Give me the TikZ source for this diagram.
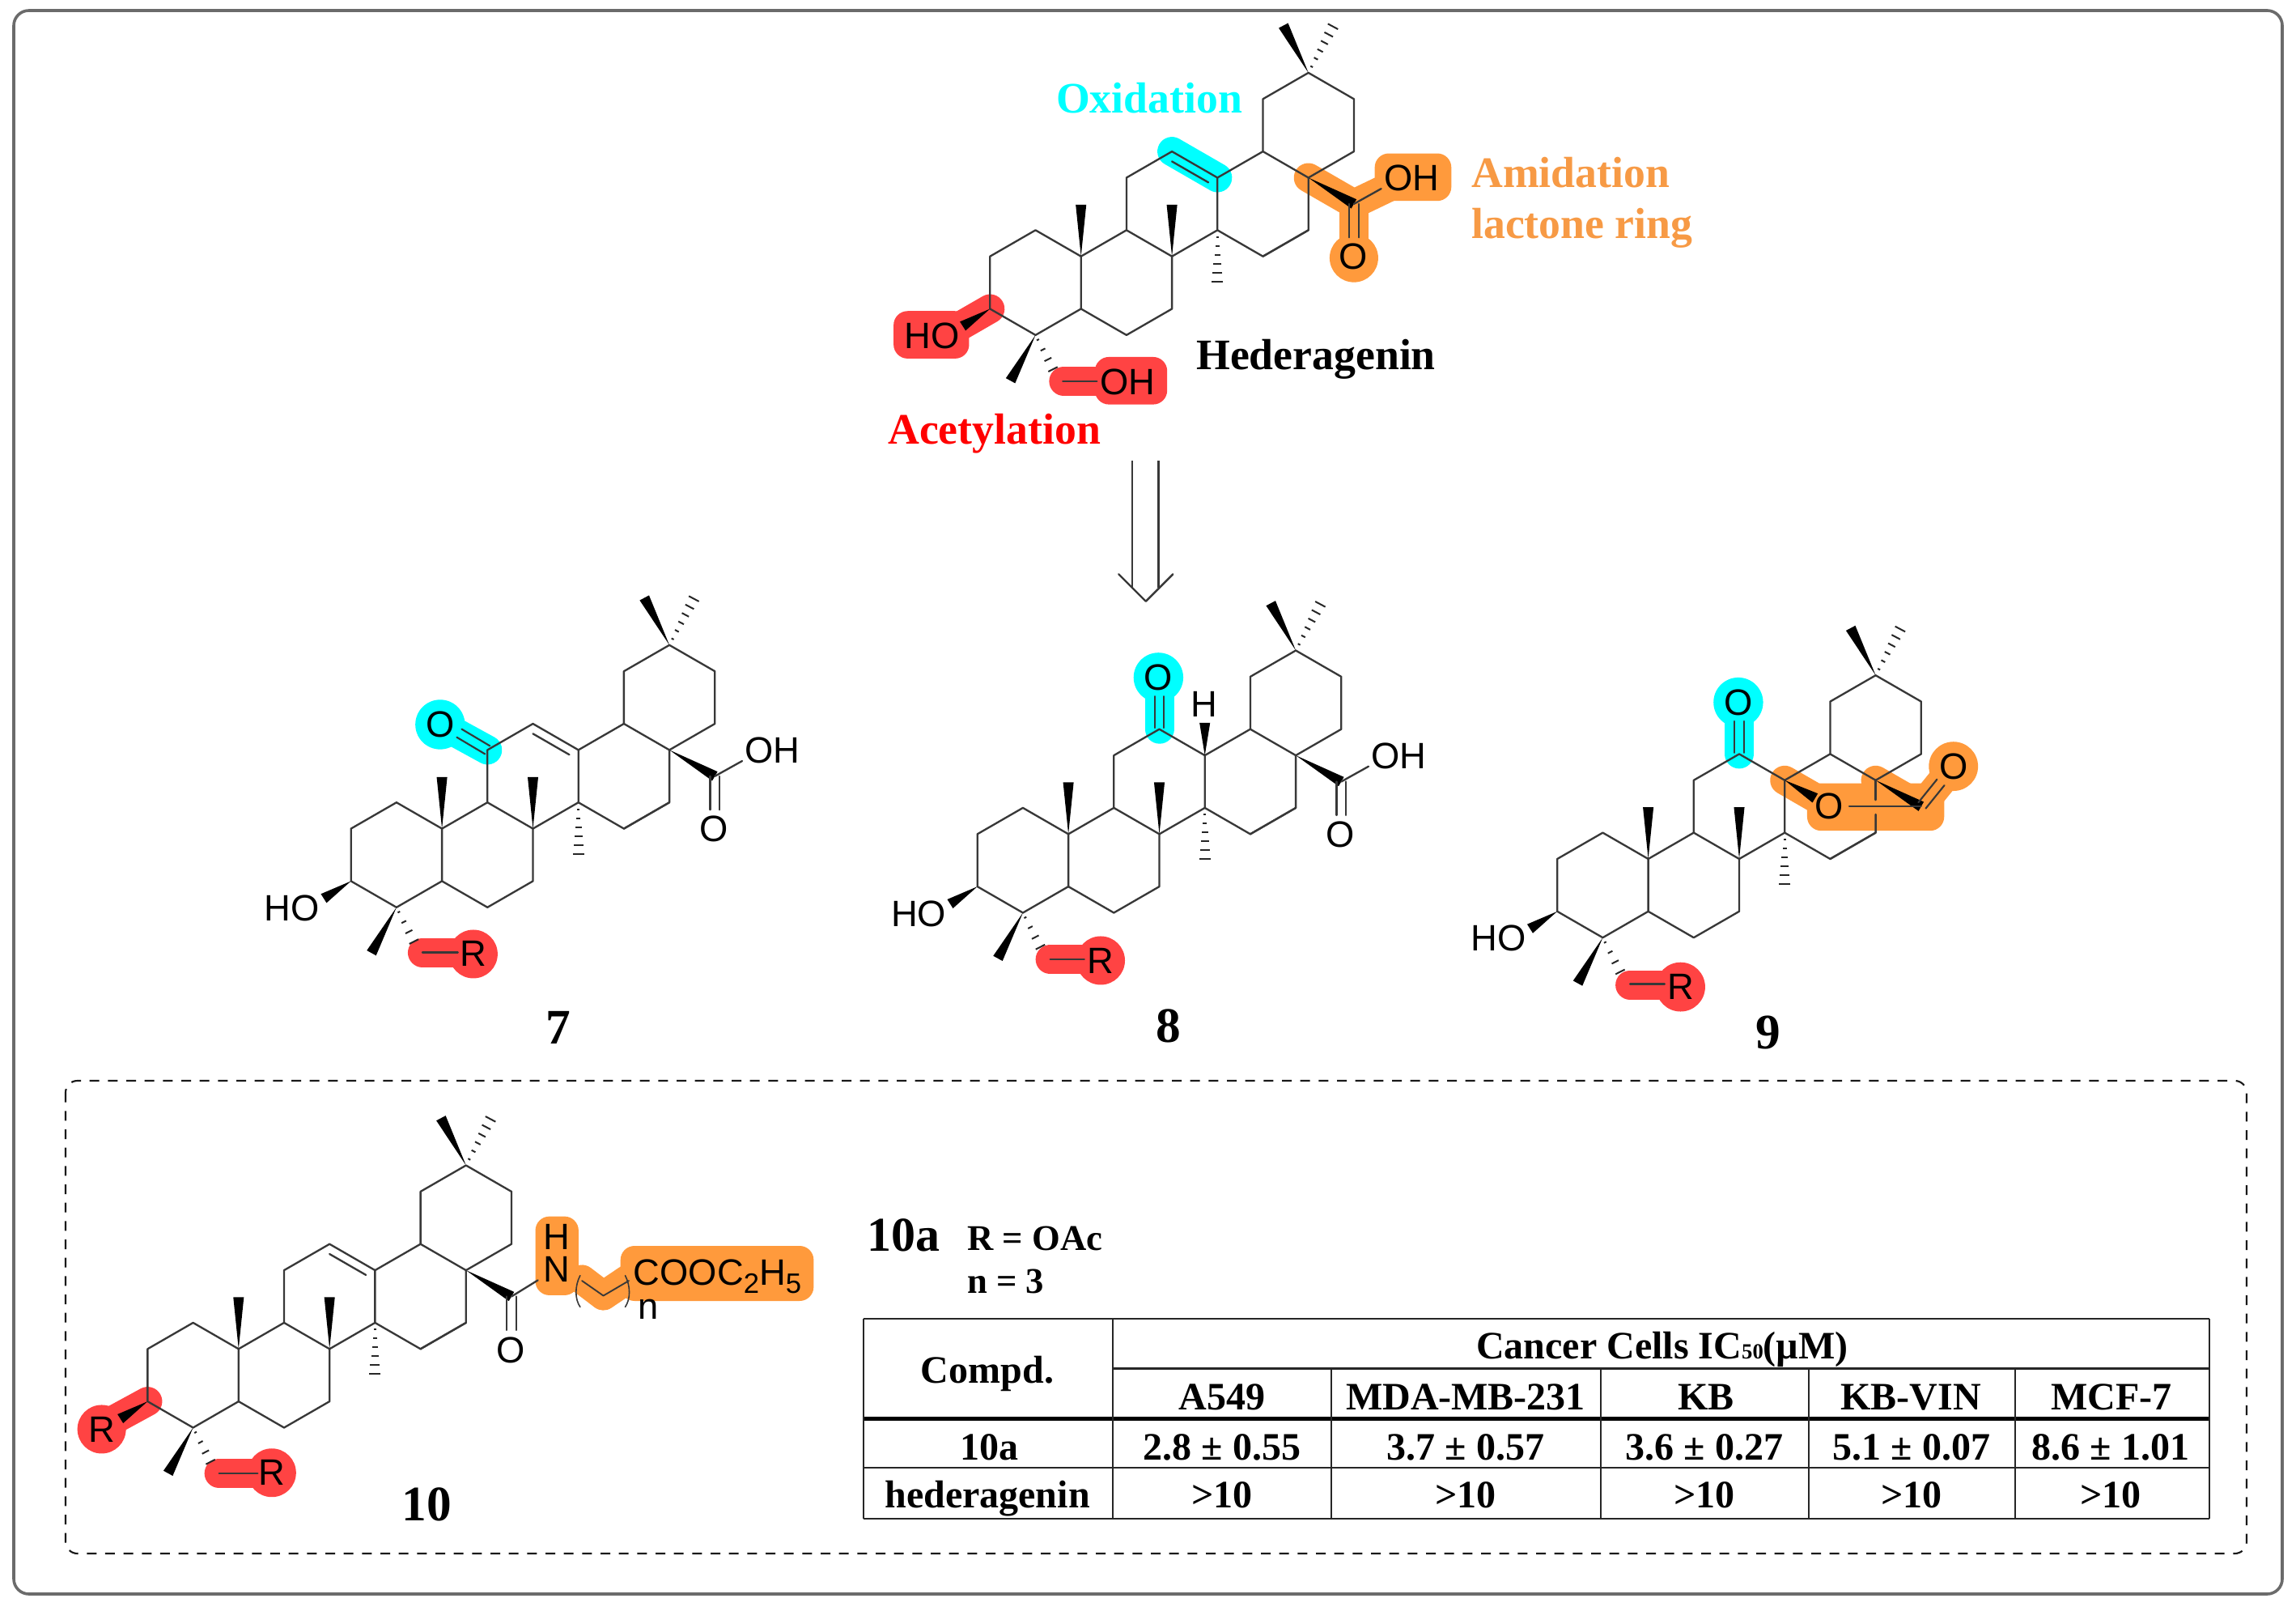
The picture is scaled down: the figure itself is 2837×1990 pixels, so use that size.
\documentclass[tikz,border=0pt]{standalone}
\usepackage{fontspec}
\setmainfont{Liberation Serif}
\newfontfamily\atomfam{Liberation Sans}
\usetikzlibrary{calc}
\definecolor{hlcyan}{HTML}{00FFFF}
\definecolor{hlorange}{HTML}{FF9A3C}
\definecolor{hlred}{HTML}{FF4343}
\definecolor{txorange}{HTML}{F79A45}
\colorlet{bondcol}{black!78}
\tikzset{
  bond/.style={draw=bondcol,line width=1.75pt,line cap=round,line join=round},
  hl/.style={draw=#1,line width=27pt,line cap=round,line join=round},
  blob/.style={fill=#1,rounded corners=13pt,inner sep=0pt,outer sep=0pt},
  atom/.style={font=\atomfam\fontsize{34}{34}\selectfont,inner sep=0pt,text=black},
  lab/.style={font=\bfseries\fontsize{40.3}{40.3}\selectfont,inner sep=0pt,anchor=base west},
  num/.style={font=\bfseries\fontsize{46}{46}\selectfont,inner sep=0pt,anchor=base},
  cell/.style={font=\bfseries\fontsize{36}{36}\selectfont,inner sep=0pt,anchor=base},
  rowline/.style={draw=black!85,line width=2.2pt},
  colline/.style={draw=black!85,line width=1.5pt},
  mol/.style={shift={#1},x=42.15pt,y=-24.3pt}
}
% solid wedge: narrow at #1, wide at #2
\newcommand{\wdg}[2]{\fill[black] (#1) -- ($(#2)!4.9pt!90:(#1)$) -- ($(#2)!4.9pt!-90:(#1)$) -- cycle;}
% hashed wedge
\newcommand{\hsh}[3]{\foreach \t in {#3}{\pgfmathsetmacro\w{\t*4.8+0.6}
  \path (#1) -- (#2) coordinate[pos=\t] (hp);
  \draw[black!85,line width=1.5pt] ($(hp)!\w pt!90:(#2)$) -- ($(hp)!\w pt!-90:(#2)$);}}
% double bond, symmetric
\newcommand{\dbl}[2]{\draw[bond,line width=1.6pt] ($(#1)!4.4pt!90:(#2)$) -- ($(#2)!4.4pt!-90:(#1)$);
  \draw[bond,line width=1.6pt] ($(#1)!4.4pt!-90:(#2)$) -- ($(#2)!4.4pt!90:(#1)$);}
% shared triterpene skeleton, on a lattice of half-hexagon steps
\newcommand{\skel}{%
  \draw[bond] (0,7)--(1,6)--(2,7)--(2,9)--(1,10)--(0,9)--cycle;
  \draw[bond] (2,7)--(3,6)--(4,7)--(4,9)--(3,10)--(2,9);
  \draw[bond] (3,6)--(3,4)--(4,3)--(5,4)--(5,6)--(4,7);
  \draw[bond] (5,6)--(6,7)--(7,6);
  \draw[bond] (5,4)--(6,3)--(7,4);
  \draw[bond] (6,3)--(6,1)--(7,0)--(8,1)--(8,3)--(7,4);
  \wdg{2,7}{2,5.03}
  \wdg{4,7}{4,5.03}
  \hsh{5,6}{5,8}{.13,.3,.47,.64,.81,.98}
  \wdg{7,0}{6.45,-1.8}
  \hsh{7,0}{7.55,-1.8}{.13,.3,.47,.64,.81,.98}
  \wdg{0,9}{-0.6,9.66}
  \wdg{1,10}{0.45,11.74}
  \hsh{1,10}{1.44,11.5}{.12,.37,.62,.87}
  \wdg{7,4}{8,5}
}
\newcommand{\cooh}[1]{%
  \draw[bond] (7,4)--(7,6)--(6,7);
  \draw[bond] (8,5)--(8.6,4.42);
  \dbl{8,5}{8,6.28}
  \node[atom] (#1oh) at (9.27,4.02) {OH};
  \node[atom] (#1o) at (7.98,7.02) {O};
}
\newcommand{\innerdb}{\draw[bond] (4,3.38)--(4.8,4.18);}
\begin{document}
\begin{tikzpicture}[x=0.75pt,y=-0.75pt]
\useasboundingbox (0,0) rectangle (2837,1990);
\fill[white] (0,0) rectangle (2837,1990);
% frames
\draw[draw=black!58,line width=2.7pt,rounded corners=14pt] (17,13) rectangle (2820,1969);
\draw[draw=black!90,line width=1.6pt,dash pattern=on 9pt off 8pt,rounded corners=11pt] (81,1335) rectangle (2776,1919);

% ---------- Hederagenin
\begin{scope}[mol={(1223.3,89.9)}]
  \draw[hl=hlcyan] (4,3)--(5,4);
  \draw[hl=hlorange] (7,4)--(8,5)--(9.2,4); \draw[hl=hlorange] (8,5)--(8,7);
  \node[blob=hlorange,minimum width=71pt,minimum height=44pt] (hbo) at (9.3,3.98) {};
  \fill[hlorange] (8,7.06) circle[radius=22.5pt];
  \draw[hl=hlred] (0,9)--(-0.7,9.7);
  \node[blob=hlred,minimum width=70pt,minimum height=44pt] (hbr1) at (-1.29,9.99) {};
  \draw[hl=hlred] (1.62,11.76)--(2.9,11.76);
  \node[blob=hlred,minimum width=67pt,minimum height=44pt] (hbr2) at (3.1,11.74) {};
  \skel \innerdb \cooh{h}
  \draw[bond] (1.6,11.76)--(2.35,11.76);
  \node[atom] (hho) at (-1.27,10.03) {HO};
  \node[atom] (hoh2) at (3.02,11.8) {OH};
\end{scope}
\node[lab,anchor=base,text=hlcyan] (toxi) at (1420,140) {Oxidation};
\node[lab,text=txorange] (tami) at (1818,232) {Amidation};
\node[lab,text=txorange] (tlac) at (1818,295) {lactone ring};
\node[lab] (thed) at (1478,456) {Hederagenin};
\node[lab,text=red] (tace) at (1097,548) {Acetylation};

% ---------- retro arrow
\coordinate (ar1) at (1399,569); \coordinate (ar2) at (1431.6,569);
\coordinate (ar1e) at (1399,726); \coordinate (ar2e) at (1431.6,726);
\coordinate (arl) at (1382.3,709.3); \coordinate (arr) at (1449.3,709.3); \coordinate (art) at (1415.8,742.8);
\draw[bond,line cap=butt] (ar1)--(ar1e); \draw[bond,line cap=butt] (ar2)--(ar2e);
\draw[bond] (arl)--(art)--(arr);

% ---------- 7
\begin{scope}[mol={(433.7,796.8)}]
  \draw[hl=hlcyan] (3,4)--(2,3.05);
  \fill[hlcyan] (1.96,3.03) circle[radius=23pt];
  \draw[hl=hlred] (1.57,11.72)--(2.7,11.72);
  \fill[hlred] (2.69,11.78) circle[radius=22.5pt];
  \skel \innerdb \cooh{a}
  \dbl{3,4}{2.38,3.36}
  \draw[bond] (1.57,11.72)--(2.35,11.72);
  \node[atom] (aho) at (-1.3,10.03) {HO};
  \node[atom] (aox) at (1.96,3.03) {O};
  \node[atom] (ar) at (2.69,11.77) {R};
\end{scope}
\node[num] (n7) at (690,1289) {7};

% ---------- 8
\begin{scope}[mol={(1207.7,803.5)}]
  \draw[hl=hlcyan] (4,3)--(4,1.2);
  \fill[hlcyan] (3.98,1.03) circle[radius=23pt];
  \draw[hl=hlred] (1.6,11.78)--(2.7,11.78);
  \fill[hlred] (2.71,11.82) circle[radius=22.5pt];
  \skel \cooh{b}
  \dbl{4,2.95}{4,1.75}
  \wdg{5,4}{5,2.76}
  \draw[bond] (1.6,11.78)--(2.35,11.78);
  \node[atom] (bho) at (-1.29,10.04) {HO};
  \node[atom] (box) at (3.98,1.03) {O};
  \node[atom] (bh) at (4.98,2.04) {H};
  \node[atom] (br) at (2.71,11.82) {R};
\end{scope}
\node[num] (n8) at (1443.5,1287) {8};

% ---------- 9
\begin{scope}[mol={(1924.2,834.2)}]
  \draw[hl=hlcyan] (4,3)--(4,1.2);
  \fill[hlcyan] (3.98,1.03) circle[radius=23pt];
  \draw[hl=hlorange] (5,4)--(6,5);
  \draw[hl=hlorange] (7,4)--(8,5)--(8.7,3.5);
  \node[blob=hlorange,minimum width=127pt,minimum height=44pt] (cblob) at (7,5.02) {};
  \fill[hlorange] (8.71,3.47) circle[radius=22.8pt];
  \draw[hl=hlred] (1.6,11.8)--(2.7,11.8);
  \fill[hlred] (2.71,11.88) circle[radius=22.8pt];
  \skel
  \draw[bond] (7,4)--(7,4.75);
  \draw[bond] (7,5.3)--(7,6)--(6,7);
  \dbl{4,2.95}{4,1.75}
  \dbl{8.02,4.96}{8.43,4.08}
  \wdg{5,4}{5.67,4.68}
  \draw[bond] (6.42,5)--(8,5);
  \node[atom] (cho) at (-1.29,10.03) {HO};
  \node[atom] (cox) at (3.98,1.03) {O};
  \node[atom] (cla) at (5.97,4.99) {O};
  \node[atom] (coo) at (8.71,3.47) {O};
  \draw[bond] (1.6,11.77)--(2.36,11.77);
  \node[atom] (cr) at (2.71,11.88) {R};
\end{scope}
\node[num] (n9) at (2185,1295) {9};

% ---------- 10
\begin{scope}[mol={(182.4,1439.5)}]
  \draw[hl=hlred] (0,9)--(-0.9,9.85);
  \fill[hlred] (-1.01,10.06) circle[radius=22.5pt];
  \draw[hl=hlred] (1.57,11.74)--(2.7,11.74);
  \fill[hlred] (2.73,11.72) circle[radius=22.5pt];
  \node[blob=hlorange,minimum width=40pt,minimum height=73pt] (dnh) at (9,3.45) {};
  \draw[hl=hlorange] (9.55,4.35)--(10.02,4.97)--(10.55,4.35);
  \node[blob=hlorange,minimum width=179pt,minimum height=51pt] (dester) at (12.52,4.12) {};
  \skel \innerdb
  \draw[bond] (7,4)--(7,6)--(6,7);
  \dbl{8,5}{8,6.28}
  \draw[bond] (8,5)--(8.58,4.38);
  \draw[bond,line width=1.4pt] (9.55,4.4)--(10.02,4.97)--(10.58,4.4);
  \draw[bond,line width=1.2pt] (9.51,4.2) .. controls (9.39,4.6) and (9.39,5.1) .. (9.51,5.4);
  \draw[bond,line width=1.2pt] (10.5,4.2) .. controls (10.62,4.6) and (10.62,5.1) .. (10.5,5.4);
  \node[atom] (dho) at (7.98,7.04) {O};
  \node[atom] (dr1) at (-1.01,10.06) {R};
  \draw[bond] (1.57,11.74)--(2.42,11.74);
  \node[atom] (dr2) at (2.73,11.72) {R};
  \node[atom] (dn) at (9,3.96) {N};
  \node[atom] (dh) at (9,2.72) {H};
  \node[atom] (dnn) at (11,5.5) {n};
  \node[atom,anchor=base west,font=\atomfam\fontsize{34}{34}\selectfont] (dc) at (10.68,4.56)
     {COOC\raisebox{-0.22em}{\fontsize{26}{26}\selectfont 2}H\raisebox{-0.22em}{\fontsize{26}{26}\selectfont 5}};
\end{scope}
\node[num] (n10) at (527.5,1878) {10};

% ---------- right-hand table
\node[num,anchor=base west,font=\bfseries\fontsize{45}{45}\selectfont] (t10a) at (1071,1545) {10a};
\node[cell,anchor=base west,font=\bfseries\fontsize{33.5}{33.5}\selectfont] (tr) at (1195,1544) {R = OAc};
\node[cell,anchor=base west,font=\bfseries\fontsize{33.5}{33.5}\selectfont] (tn) at (1195,1597) {n = 3};

\draw[rowline] (1066.7,1629) -- (2729.7,1629);
\draw[rowline] (1374.8,1690.7) -- (2729.7,1690.7);
\draw[rowline,line width=3.8pt,draw=black] (1066.7,1752.7) -- (2729.7,1752.7);
\draw[rowline] (1066.7,1813) -- (2729.7,1813);
\draw[rowline] (1066.7,1876) -- (2729.7,1876);
\draw[colline] (1066.7,1629) -- (1066.7,1876);
\draw[colline] (1374.8,1629) -- (1374.8,1876);
\draw[colline] (2729.7,1629) -- (2729.7,1876);
\foreach \cx in {1644.9,1977.5,2235.3,2489.7}{\draw[colline] (\cx,1690.7) -- (\cx,1876);}

\node[cell] (c00) at (1220,1708) {Compd.};
\node[cell] (c01) at (2054,1678) {Cancer Cells IC{\fontsize{20}{20}\selectfont 50}(µM)};
\node[cell] (c11) at (1510,1741.5) {A549};
\node[cell] (c12) at (1811,1741.5) {MDA-MB-231};
\node[cell] (c13) at (2108,1741.5) {KB};
\node[cell] (c14) at (2361,1741.5) {KB-VIN};
\node[cell] (c15) at (2609,1741.5) {MCF-7};
\node[cell] (c20) at (1222,1803) {10a};
\node[cell] (c21) at (1510,1803) {2.8 ± 0.55};
\node[cell] (c22) at (1811,1803) {3.7 ± 0.57};
\node[cell] (c23) at (2106,1803) {3.6 ± 0.27};
\node[cell] (c24) at (2362,1803) {5.1 ± 0.07};
\node[cell] (c25) at (2608,1803) {8.6 ± 1.01};
\node[cell] (c30) at (1220,1862) {hederagenin};
\node[cell] (c31) at (1510,1862) {>10};
\node[cell] (c32) at (1811,1862) {>10};
\node[cell] (c33) at (2106,1862) {>10};
\node[cell] (c34) at (2362,1862) {>10};
\node[cell] (c35) at (2608,1862) {>10};
\end{tikzpicture}
\end{document}
